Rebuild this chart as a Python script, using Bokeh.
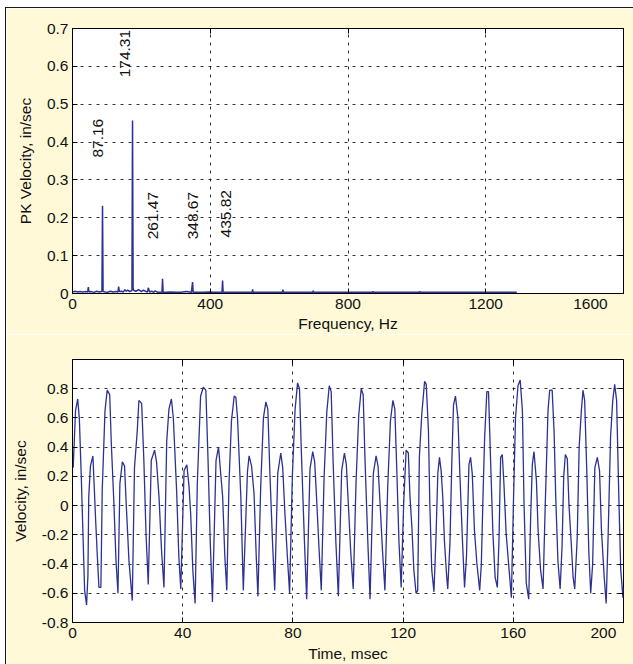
from bokeh.plotting import figure
from bokeh.layouts import column
from bokeh.models import (Range1d, FixedTicker, CustomJSTickFormatter, LinearAxis,
                          ColumnDataSource)
from bokeh.embed import file_html
from bokeh.resources import INLINE
from bokeh.core.properties import value
import math

# ---------------- data ----------------
# Spectrum (top): frequency in Hz, peak velocity in in/sec
freq_hz = [0, 8, 15, 22, 30, 38, 44, 46, 48, 55, 62, 70, 78, 85.5, 87.16, 88.8,
           95, 102, 110, 118, 126, 132, 134, 136, 142, 148, 152, 156, 160, 166,
           172.6, 174.31, 176.0, 178, 184, 192, 200, 206, 212, 218, 220, 224, 230,
           236, 240, 248, 256, 259.8, 261.47, 263.1, 270, 285, 300, 315, 330,
           345.3, 348.67, 350.3, 365, 380, 395, 410, 425, 434.2, 435.82, 437.4,
           460, 490, 521.5, 523, 524.5, 560, 609.5, 611, 612.5, 650, 697.5, 699,
           700.5, 760, 820, 870.5, 872, 873.5, 940, 1006.5, 1008, 1009.5, 1080,
           1150, 1220, 1290]
pk_vel = [0.004, 0.006, 0.004, 0.005, 0.004, 0.005, 0.004, 0.017, 0.004, 0.005,
          0.003, 0.006, 0.004, 0.005, 0.232, 0.005,
          0.004, 0.003, 0.006, 0.004, 0.005, 0.004, 0.018, 0.005, 0.006, 0.004,
          0.010, 0.006, 0.009, 0.005,
          0.008, 0.457, 0.014, 0.008, 0.006, 0.010, 0.005, 0.009, 0.006, 0.004,
          0.015, 0.004, 0.006,
          0.003, 0.007, 0.003, 0.003, 0.003, 0.039, 0.003, 0.003, 0.004, 0.003,
          0.003, 0.005,
          0.003, 0.030, 0.003, 0.003, 0.003, 0.004, 0.003, 0.003, 0.003, 0.034,
          0.003,
          0.003, 0.003, 0.003, 0.011, 0.003, 0.003, 0.003, 0.010, 0.003, 0.003,
          0.003, 0.007,
          0.003, 0.003, 0.003, 0.003, 0.006, 0.003, 0.003, 0.003, 0.006, 0.003,
          0.003,
          0.003, 0.003, 0.003]

peak_labels = ["87.16", "174.31", "261.47", "348.67", "435.82"]
peak_label_x = [72.6, 153.9, 235.2, 351.3, 444.3]
peak_label_y = [0.359, 0.571, 0.143, 0.143, 0.148]

# Time waveform (bottom): time in msec, velocity in in/sec
time_ms = [
    0.25, 1.1, 1.9, 2.5, 3.2, 3.9, 4.4, 5.1, 5.6, 5.9,
    6.5, 7.4, 7.8, 8.4, 9.0, 9.6, 10.3, 10.8, 11.8, 12.6,
    13.5, 14.1, 15.0, 15.8, 16.5, 17.2, 18.1, 18.9, 19.5, 20.5,
    21.7, 22.5, 23.5, 24.1, 25.1, 25.9, 26.7, 27.5, 28.6, 29.8,
    30.5, 31.4, 32.3, 33.2, 34.2, 35.0, 35.9, 36.6, 37.8, 38.6,
    39.3, 40.5, 41.5, 42.3, 42.9, 43.7, 44.5, 45.3, 46.5, 47.5,
    48.4, 49.2, 50.0, 50.8, 52.1, 53.0, 53.8, 54.5, 55.3, 56.0,
    56.8, 57.7, 58.7, 59.3, 59.9, 61.1, 62.0, 63.5, 64.1, 65.0,
    65.9, 66.7, 67.3,
    68.3, 69.3, 70.2, 70.9, 71.6, 72.6, 73.4, 74.5, 75.6, 76.3,
    77.1, 78.0, 78.8, 79.8, 80.8, 81.7, 82.4, 83.1, 84.2, 85.0,
    86.2, 87.2, 87.9, 88.6, 89.5, 90.3, 91.3, 92.3, 93.2, 93.9,
    94.6, 95.6, 96.5, 97.7, 98.7, 99.4, 100.1, 101.0, 101.9, 102.9,
    103.9, 104.8, 105.5, 106.2, 107.2, 108.0, 109.2, 110.2, 110.9, 111.6,
    112.5, 113.4, 114.4, 115.4, 116.3, 117.0, 117.7, 118.5, 119.3,
    120.2, 121.1, 121.9, 122.5, 123.2, 123.9, 124.7, 125.3, 125.9, 126.8,
    127.8, 128.4, 129.2, 129.7, 130.4, 131.2, 131.9, 132.6, 133.2, 133.8,
    134.4, 135.0, 135.8, 136.2, 137.0, 137.7, 138.3, 139.0, 139.9, 140.6,
    141.5, 142.3, 143.0, 143.9, 144.5, 145.1, 145.9, 146.8, 147.8, 148.4,
    149.0, 149.6, 150.4, 151.0, 151.8, 152.6, 153.4, 154.2, 154.8, 155.4,
    156.0, 156.6, 157.4, 158.3, 159.3, 160.1, 160.8, 161.7, 162.5, 163.3,
    163.9, 164.7, 165.6, 166.3, 166.9, 167.5, 168.4, 169.0, 169.9, 170.8,
    171.6, 172.6, 173.2, 174.1, 174.8, 175.4, 176.2, 177.0, 177.7, 178.3,
    178.9, 179.6, 180.2, 181.1, 181.7, 182.3, 183.2, 183.9, 184.7, 185.3,
    185.9, 186.7, 187.4, 188.1, 188.8, 189.6, 190.5, 191.3, 192.0, 193.0,
    193.7, 194.4, 195.3, 196.1, 196.8, 197.5, 198.3, 199.0, 199.8, 200.0]
velocity = [
    0.26, 0.65, 0.73, 0.59, 0.19, -0.26, -0.58, -0.68, -0.48, 0.06,
    0.27, 0.34, 0.17, -0.10, -0.34, -0.56, -0.56, 0.11, 0.65, 0.79,
    0.76, 0.42, 0.03, -0.38, -0.60, 0.15, 0.30, 0.27, 0.01, -0.38,
    -0.65, 0.26, 0.51, 0.72, 0.70, 0.31, -0.20, -0.54, 0.31, 0.38,
    0.30, 0.06, -0.30, -0.56, 0.44, 0.66, 0.73, 0.60, 0.10, -0.35,
    -0.57, 0.24, 0.28, 0.13, -0.06, -0.45, -0.67, 0.15, 0.75, 0.81,
    0.79, 0.31, -0.25, -0.66, 0.31, 0.40, 0.22, 0.06, -0.35, -0.58,
    0.15, 0.58, 0.75, 0.74, 0.60, 0.06, -0.58, 0.23, 0.34, 0.27,
    0.08, -0.35, -0.62,
    0.12, 0.60, 0.71, 0.66, 0.25, -0.25, -0.58, 0.22, 0.36, 0.26,
    -0.05, -0.35, -0.60, 0.20, 0.66, 0.84, 0.80, 0.35, -0.25, -0.64,
    0.25, 0.37, 0.30, 0.05, -0.30, -0.58, 0.18, 0.64, 0.82, 0.78,
    0.30, -0.25, -0.62, 0.24, 0.36, 0.28, 0.02, -0.32, -0.57, 0.15,
    0.62, 0.80, 0.76, 0.30, -0.25, -0.64, 0.22, 0.34, 0.27, 0.03,
    -0.30, -0.58, 0.12, 0.58, 0.72, 0.66, 0.25, -0.25, -0.56,
    0.01, 0.38, 0.36, 0.06, -0.15, -0.44, -0.60, -0.58, 0.33, 0.63,
    0.85, 0.83, 0.51, 0.01, -0.44, -0.59, -0.24, 0.22, 0.33, 0.24,
    0.06, -0.24, -0.48, -0.57, -0.26, 0.31, 0.69, 0.75, 0.60, 0.22,
    -0.22, -0.56, -0.35, 0.28, 0.33, 0.22, -0.17, -0.40, -0.58, -0.40,
    0.06, 0.47, 0.78, 0.78, 0.28, -0.19, -0.49, -0.56, -0.24, 0.33,
    0.35, 0.15, -0.19, -0.40, -0.63, 0.06, 0.60, 0.82, 0.86, 0.65,
    0.01, -0.53, -0.64, -0.08, 0.28, 0.37, 0.17, -0.17, -0.44, -0.57,
    0.01, 0.65, 0.79, 0.79, 0.51, 0.06, -0.38, -0.57, -0.28, 0.20,
    0.35, 0.32, 0.01, -0.28, -0.49, -0.57, -0.22, 0.40, 0.65, 0.79,
    0.72, 0.22, -0.31, -0.60, -0.40, 0.26, 0.33, 0.24, -0.17, -0.49,
    -0.67, -0.22, 0.47, 0.72, 0.83, 0.72, 0.06, -0.44, -0.63, -0.56]

freq_ticks = [0, 400, 800, 1200, 1600]
pk_ticks = [0, 0.1, 0.2, 0.3, 0.4, 0.5, 0.6, 0.7]
time_ticks = [0, 40, 80, 120, 160, 200]
vel_ticks = [-0.8, -0.6, -0.4, -0.2, 0, 0.2, 0.4, 0.6, 0.8]

assert len(freq_hz) == len(pk_vel)
assert len(time_ms) == len(velocity)

# ---------------- style ----------------
BG = "#FFF9D8"
LINE = "#2C3193"
FONT = "Liberation Sans"
FS = "15.5px"
TXT = "#111111"
W = 627

# the last x label is kept inside the figure (as in the original) by padding
fmt_x_code = ("var s = Number(tick.toFixed(2)).toString();"
              "return tick >= %s ? s + '\\u00a0'.repeat(%d) : s;")
fmt_code = "return Number(tick.toFixed(2)).toString();"


def style(p, xticks, yticks, xlabel, ylabel, x_std, x_lab_std, pad):
    p.border_fill_color = BG
    p.background_fill_color = "white"
    p.outline_line_color = "black"
    p.outline_line_width = 1
    p.outline_line_alpha = 1
    for ax, ticks in ((p.xaxis[0], xticks), (p.yaxis[0], yticks)):
        ax.ticker = FixedTicker(ticks=ticks)
        ax.major_tick_in = 5
        ax.major_tick_out = 0
        ax.minor_tick_in = 0
        ax.minor_tick_out = 0
        ax.axis_line_color = "black"
        ax.major_tick_line_color = "black"
        ax.major_label_text_font = FONT
        ax.major_label_text_font_size = FS
        ax.major_label_text_color = TXT
        ax.axis_label_text_font = FONT
        ax.axis_label_text_font_size = FS
        ax.axis_label_text_font_style = "normal"
        ax.axis_label_text_color = TXT
    p.xaxis[0].formatter = CustomJSTickFormatter(code=fmt_x_code % (xticks[-1], pad))
    p.yaxis[0].formatter = CustomJSTickFormatter(code=fmt_code)
    p.xaxis[0].axis_label = xlabel
    p.yaxis[0].axis_label = ylabel
    p.xaxis[0].major_label_standoff = x_std
    p.xaxis[0].axis_label_standoff = x_lab_std
    p.yaxis[0].major_label_standoff = 4
    p.yaxis[0].axis_label_standoff = 10
    for g, ticks in ((p.xgrid[0], xticks), (p.ygrid[0], yticks)):
        g.ticker = FixedTicker(ticks=ticks)
        g.grid_line_color = "black"
        g.grid_line_alpha = 0.8
        g.grid_line_dash = "3 5"
        g.grid_line_width = 1
    # box ticks on top and right (MATLAB style)
    for loc, ticks in (("above", xticks), ("right", yticks)):
        ax = LinearAxis(ticker=FixedTicker(ticks=ticks),
                        formatter=CustomJSTickFormatter(code="return '';"))
        ax.major_tick_in = 5
        ax.major_tick_out = 0
        ax.minor_tick_in = 0
        ax.minor_tick_out = 0
        ax.axis_line_color = None
        ax.major_tick_line_color = "black"
        ax.major_label_text_font_size = "0px"
        ax.major_label_standoff = 0
        p.add_layout(ax, loc)


# ---------------- top: spectrum ----------------
p1 = figure(width=W, height=326, output_backend="svg", toolbar_location=None,
            x_range=Range1d(0, 1600), y_range=Range1d(0, 0.7),
            min_border_left=66, min_border_right=10, min_border_top=20,
            min_border_bottom=41)
style(p1, freq_ticks, pk_ticks, "Frequency, Hz", "PK Velocity, in/sec", 1, 0, 6)
p1.line(freq_hz, pk_vel, line_color=LINE, line_width=1.5)
lab_src = ColumnDataSource(dict(x=peak_label_x, y=peak_label_y, t=peak_labels))
p1.text(x="x", y="y", text="t", source=lab_src, angle=math.pi / 2,
        text_align="left", text_baseline="alphabetic",
        text_font=value(FONT), text_font_size=FS, text_color=TXT)

# ---------------- bottom: waveform ----------------
p2 = figure(width=W, height=330, output_backend="svg", toolbar_location=None,
            x_range=Range1d(0, 200), y_range=Range1d(-0.8, 1.0),
            min_border_left=66, min_border_right=10, min_border_top=25,
            min_border_bottom=42)
style(p2, time_ticks, vel_ticks, "Time, msec", "Velocity, in/sec", 1, 1, 4)
p2.line(time_ms, velocity, line_color=LINE, line_width=1.3)

layout = column(p1, p2, spacing=0,
                styles={"margin-left": "5px", "margin-top": "7px",
                        "border-top": "1px solid #1a1a1a",
                        "border-left": "1px solid #1a1a1a"})
open("out.html", "w").write(file_html(layout, INLINE))
